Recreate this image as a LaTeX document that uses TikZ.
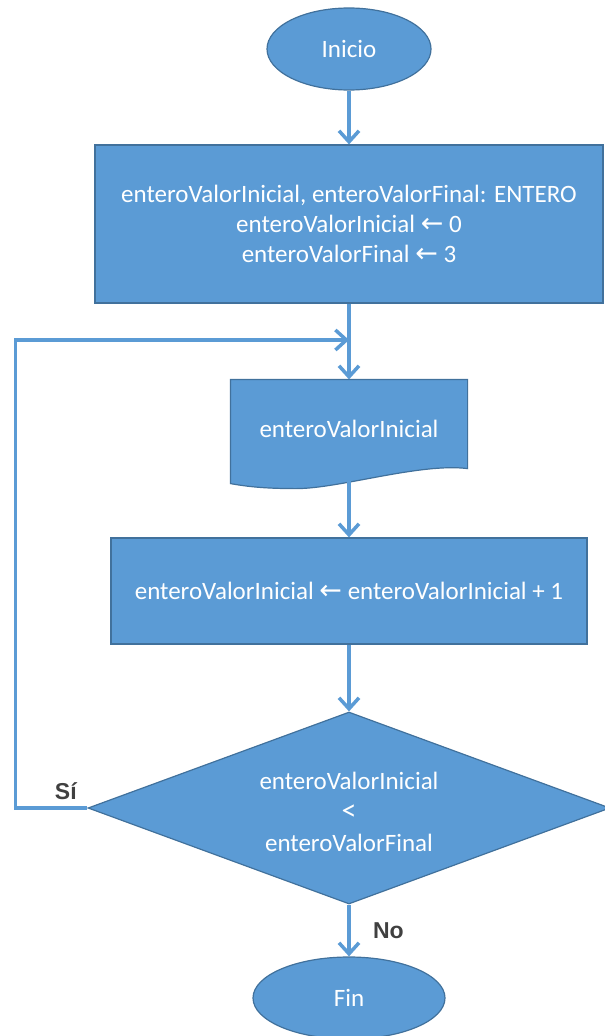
\documentclass[tikz,border=0pt]{standalone}
\usepackage{fontspec}
\setmainfont{Carlito}
\newfontfamily\labelfont{Liberation Sans}
\newfontfamily\arrowfont{DejaVu Sans}
\usetikzlibrary{shapes.geometric,arrows.meta,calc,backgrounds}
\definecolor{fillblue}{HTML}{5B9BD5}
\definecolor{edgeblue}{HTML}{41719C}
\definecolor{labgray}{HTML}{404040}
\newcommand{\asg}{{\arrowfont\fontsize{27}{30}\selectfont ←}}
\begin{document}
\begin{tikzpicture}[x=1pt,y=-1pt,
  shapebox/.style={fill=fillblue, draw=edgeblue, line width=1.2pt, text=white,
    font=\fontsize{25}{30}\selectfont, align=center, inner sep=0pt},
  plaintext/.style={text=white, font=\fontsize{25}{31}\selectfont, align=center, inner sep=0pt},
  docshape/.style={fill=fillblue, draw=edgeblue, line width=1.2pt},
  flow/.style={draw=fillblue, line width=3.5pt, -{Straight Barb[length=11pt,width=20pt]}},
  lab/.style={text=labgray, font=\labelfont\bfseries\fontsize{23}{27}\selectfont}]
\useasboundingbox (0,0) rectangle (605,1036);

\node[shapebox, ellipse, minimum width=164pt, minimum height=82pt] (inicio) at (349,49) {Inicio};
\node[shapebox, rectangle, minimum width=508pt, minimum height=158pt] (decl) at (349,224)
  {enteroValorInicial, enteroValorFinal: ENTERO\\
   enteroValorInicial \asg{} 0\\
   enteroValorFinal \asg{} 3};
\node[shapebox, rectangle, draw=none, fill=none, minimum width=236pt, minimum height=98pt] (doc) at (349,429) {enteroValorInicial};
\begin{scope}[on background layer]
\draw[docshape] (doc.north west) -- (doc.north east) -- ($(doc.south east)+(0,-10)$)
  .. controls ($(doc.south east)+(-47,-16)$) and ($(doc.south west)+(109,10)$) .. ($(doc.south west)+(66,10)$)
  .. controls ($(doc.south west)+(34,10)$) and ($(doc.south west)+(17,8)$) .. ($(doc.south west)+(0,5)$)
  -- cycle;
\end{scope}
\node[shapebox, rectangle, minimum width=476pt, minimum height=106pt] (incr) at (349,591)
  {enteroValorInicial \asg{} enteroValorInicial + 1};
\node[shapebox, diamond, aspect=2.7, minimum width=522pt, minimum height=192pt] (cond) at (349,808) {};
\node[plaintext] (condtext) at ($(cond.center)+(0,4)$)
  {enteroValorInicial\\ {\fontsize{30}{31}\selectfont <}\\ enteroValorFinal};
\node[shapebox, ellipse, minimum width=192pt, minimum height=82pt] (fin) at (349,998) {Fin};

\coordinate (join) at ($(decl.south)!0.48!(doc.north)$);

\draw[flow] (inicio) -- (decl);
\draw[flow] (decl) -- (doc);
\draw[flow] (doc.south) -- (incr);
\draw[flow] (incr) -- (cond);
\draw[flow] (cond) -- node[lab, midway, anchor=west, xshift=19pt] {No} (fin);
\draw[flow] (cond.west) -- node[lab, pos=0.3, anchor=south, yshift=3pt] {Sí} ++(-72,0) |- (join);
\end{tikzpicture}
\end{document}
